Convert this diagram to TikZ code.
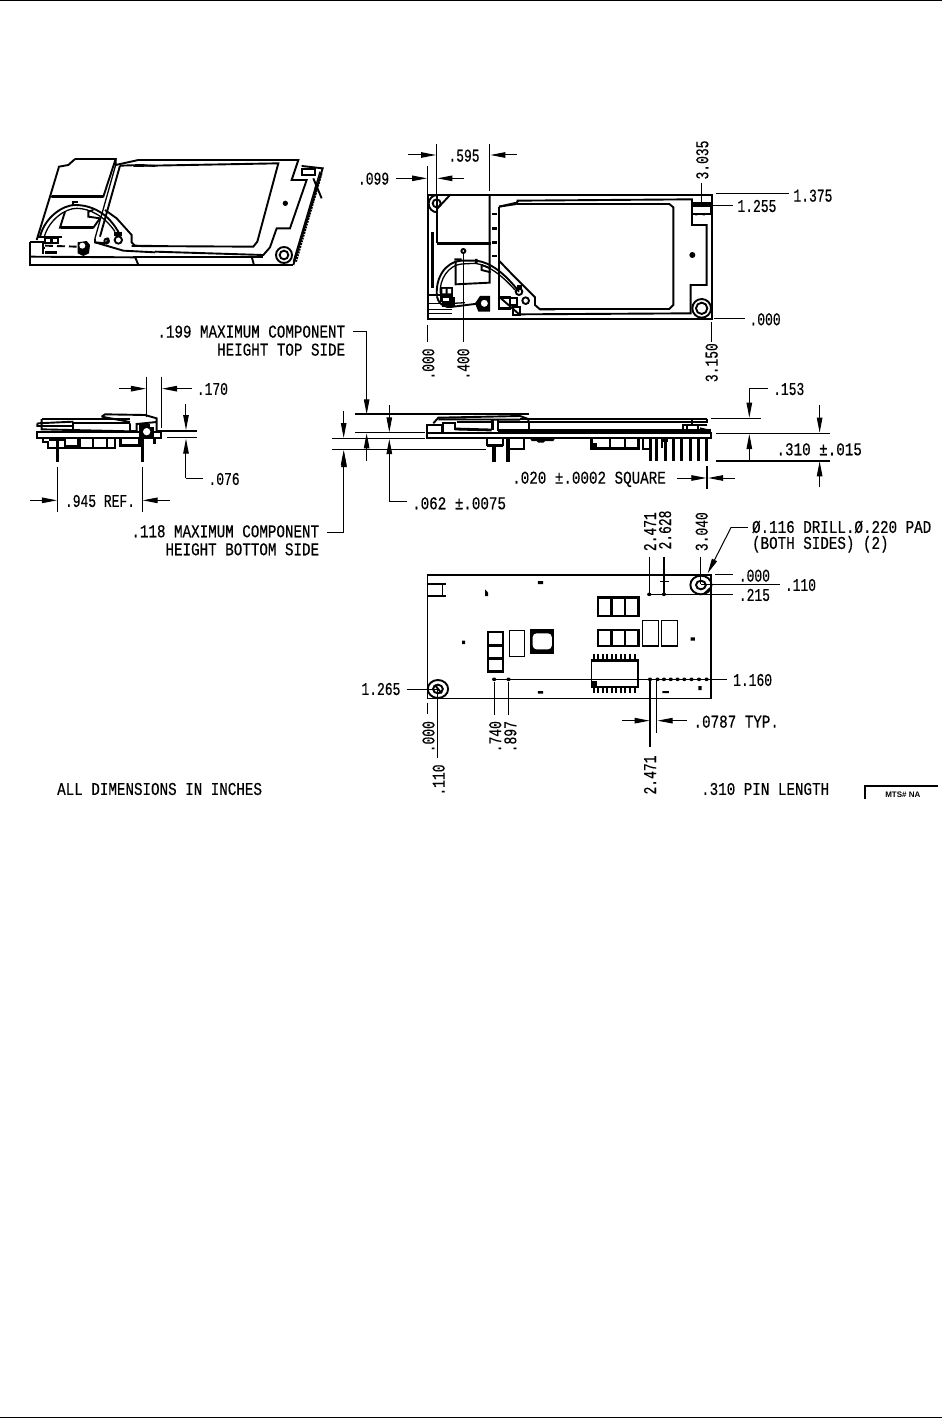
\documentclass[tikz,border=0pt]{standalone}
\usepackage{fontspec}
\setmainfont{Liberation Sans}
\newfontfamily\numfam[FakeStretch=0.72,FakeBold=0.4]{Liberation Mono}
\newfontfamily\txtfam[FakeStretch=0.79,FakeBold=0.4]{Liberation Mono}
\usetikzlibrary{arrows.meta}
\newcommand{\numsize}{\fontsize{18}{20}\numfam}
\newcommand{\txtsize}{\fontsize{18}{20}\txtfam}
\tikzset{
  lab/.style={inner sep=0pt,font=\numsize\selectfont,text=black},
  tlab/.style={inner sep=0pt,font=\txtsize\selectfont,text=black},
  vlab/.style={lab,rotate=90},
  dimar/.style={-{Triangle[length=15pt,width=5.5pt]},line width=1pt},
  ext/.style={line width=1pt},
  heavy/.style={line width=1.9pt},
  med/.style={line width=1.3pt},
  pin/.style={line width=3pt},
  zt/.style={shift={#1},scale=1/3},
  zw/.style n args={2}{shift={#1},xscale=#2,yscale=1/3}
}
\begin{document}
\begin{tikzpicture}[x=1pt,y=-1pt,line join=miter]
\useasboundingbox (0,0) rectangle (942,1426);
\fill[white] (0,0) rectangle (942,1426);
% page rules
\draw[line width=1pt] (0,.5) -- (942,.5);
\draw[line width=1pt] (0,1417.5) -- (942,1417.5);

% ---------- isometric view
\begin{scope}[zt={(0,130)}]
% right part
\draw[heavy] (880,405) -- (968,115) -- (905,108);
\draw[heavy] (400,380) -- (790,380);
\draw[med] (880,395) -- (960,125);
\draw[heavy,densely dotted] (888,395) -- (965,130);
\draw[heavy] (418,90) -- (895,90) -- (875,150) -- (920,150) -- (870,295) -- (830,295) -- (810,352) -- (790,375) -- (465,365);
\draw[heavy] (400,108) -- (835,100) -- (772,335) -- (760,350) -- (395,348);
\fill (856,220) circle (8);
\draw[heavy] (852,375) circle (24) (852,375) circle (13);
\draw[heavy] (905,118) rectangle (945,135);
\draw[heavy] (940,145) -- (965,205) (948,165) -- (945,190);
\draw[heavy] (755,380) -- (762,405);
\draw[heavy] (465,405) -- (880,405);
% left detail, frame of the second crop
\begin{scope}[shift={(75,75)}]
\draw[heavy] (150,12) -- (272,12) -- (235,125) -- (78,125);
\draw[line width=2.6pt] (80,125) -- (235,125);
\draw[heavy] (150,12) -- (130,30) -- (102,35) -- (75,125) -- (35,255);
\draw[heavy] (272,12) -- (272,30) -- (340,15) -- (390,15);
\draw[heavy] (285,32) -- (350,30) -- (390,33);
\draw[heavy] (285,32) -- (225,245);
\draw[med] (272,30) -- (210,250);
\draw[heavy] (45,245) .. controls (60,185) and (115,150) .. (150,150) .. controls (195,150) and (250,170) .. (285,240);
\draw[med] (58,245) .. controls (72,195) and (120,160) .. (155,160) .. controls (195,160) and (240,185) .. (270,230);
\draw[heavy] (120,170) -- (105,218) -- (205,218) -- (225,190) -- (190,185) -- (190,170) -- (205,165);
\draw[line width=2.4pt] (108,218) -- (205,218);
\draw[heavy] (145,150) -- (145,141) -- (160,141);
% lower left
\draw[heavy] (15,262) -- (55,262) -- (55,298);
\draw[heavy] (15,262) -- (15,330) -- (390,330);
\draw[heavy] (15,305) -- (330,307);
\draw[heavy] (330,305) -- (340,330);
\fill (60,288) rectangle (97,298);
\draw[heavy] (55,280) -- (60,280);
\draw[heavy,dash pattern=on 8pt off 4pt] (60,272) -- (155,275);
\fill (158,262) -- (185,258) -- (195,270) -- (192,295) -- (175,303) -- (158,295) -- cycle;
\fill[white] (172,272) circle (9);
\draw[heavy] (60,250) rectangle (78,265) (82,250) rectangle (100,265);
\draw[heavy] (40,245) -- (112,245);
% lower right of the cable
\draw[heavy] (240,165) -- (275,190) -- (320,240) -- (320,262) -- (330,272) -- (390,273);
\draw[heavy] (210,262) -- (295,287) -- (390,292);
\draw[heavy] (210,250) -- (210,262) -- (245,265) -- (250,248);
\draw[heavy] (280,255) circle (11) (245,258) circle (7);
\fill (268,232) rectangle (290,242);
\end{scope}
\end{scope}

% ---------- top view
\begin{scope}[zt={(350,130)}]
\draw[heavy] (233,195) rectangle (1085,567);
\draw[heavy] (500,212) -- (1026,208) -- (1026,285) -- (1070,285) -- (1070,465) -- (1022,465) -- (1022,550) -- (510,553);
\draw[heavy] (500,222) -- (958,222) -- (970,232) -- (970,525) -- (958,537) -- (570,537);
\draw[line width=3pt] (1028,228) -- (1080,228);
\draw[heavy] (1026,218) rectangle (1082,252);
\fill (1035,250) rectangle (1042,256) (1058,250) rectangle (1065,256);
\fill (1027,375) circle (9);
\draw[heavy] (1055,535) circle (17) (1055,535) circle (28);
% left detail, frame of the crop
\begin{scope}[shift={(225,180)}]
\draw[heavy] (37,15) -- (37,160);
\draw[line width=2.4pt] (35,160) -- (197,160);
\draw[heavy] (194,15) -- (194,278) -- (92,283) -- (92,215);
\draw[line width=2.4pt] (22,125) -- (22,295);
\foreach \y in {72,115,157,198} \fill (202,\y-4) rectangle (215,\y+4);
% hole
\draw[heavy] (35,40) circle (12);
\draw[heavy] (37,67) arc (90:270:26);
\draw[heavy] (37,15) -- (75,15) -- (35,58);
% screen outline
\draw[heavy] (222,50) -- (275,38) -- (280,32);
\draw[heavy] (222,50) -- (222,322);
\draw[heavy] (222,50) -- (275,42);
\draw[heavy] (222,212) -- (270,262) -- (330,322) -- (330,345) -- (345,358) -- (390,358);
\draw[heavy] (222,320) -- (285,375);
% cable
\draw[heavy] (36,320) .. controls (30,265) and (60,215) .. (110,212) -- (155,212) .. controls (195,218) and (235,245) .. (282,305);
\draw[med] (46,310) .. controls (42,270) and (70,225) .. (110,222) -- (150,220) .. controls (190,225) and (230,255) .. (270,300);
\draw[heavy] (36,320) .. controls (42,345) and (60,355) .. (85,350) -- (165,340);
\draw[med] (55,318) .. controls (58,335) and (70,342) .. (85,340) -- (120,338);
\draw[heavy] (170,225) -- (170,240) -- (197,247);
\draw[heavy] (170,225) -- (197,235);
\fill (88,205) rectangle (110,212) (150,207) rectangle (158,222);
% leader with tiny hole
\draw[ext] (115,188) -- (115,455);
\draw[heavy] (115,183) circle (6);
% connector at left
\draw[med] (8,315) -- (70,315) (8,340) -- (50,340) (8,358) -- (80,358) (8,370) -- (80,370);
\fill (45,290) rectangle (85,335);
\fill[white] (52,297) rectangle (62,310) (68,297) rectangle (78,310);
\fill (50,320) rectangle (90,350);
\fill[white] (55,325) rectangle (72,332);
% round pad
\fill (165,318) -- (195,318) -- (195,365) -- (160,365) -- (150,340) -- cycle;
\fill[white] (178,340) circle (12);
\draw[med] (178,340) circle (13);
% lower-centre components
\draw[line width=2.4pt] (222,322) rectangle (255,355);
\draw[heavy] (255,325) rectangle (275,345);
\draw[heavy] (265,350) rectangle (285,375);
\draw[heavy] (282,305) circle (10) (302,332) circle (10);
\fill (275,285) rectangle (290,300);
\end{scope}
% dimensions
\draw[ext] (260,42) -- (260,195);
\draw[ext] (419,42) -- (419,182);
\draw[dimar] (175,75) -- (258,75);
\draw[dimar] (500,75) -- (421,75);
\node[lab] (d595) at (342,77) {.595};
\draw[ext] (232,108) -- (232,195);
\draw[dimar] (138,145) -- (231,145);
\draw[dimar] (342,145) -- (262,145);
\node[lab,anchor=east] (d099) at (118,146) {.099};
\draw[ext] (1055,160) -- (1055,216);
\node[vlab] (d3035) at (1057,90) {3.035};
\draw[ext] (1098,192) -- (1318,192);
\node[lab,anchor=west] (d1375) at (1330,197) {1.375};
\draw[ext] (1085,227) -- (1148,227);
\node[lab,anchor=west] (d1255) at (1162,228) {1.255};
\draw[ext] (1092,565) -- (1185,565);
\node[lab,anchor=west] (d000a) at (1198,568) {.000};
\draw[ext] (233,585) -- (233,635);
\node[vlab] (d000b) at (235,702) {.000};
\node[vlab] (d400) at (340,702) {.400};
\draw[ext] (1085,575) -- (1085,635);
\node[vlab] (d3150) at (1085,698) {3.150};
\end{scope}

% ---------- left side view
\begin{scope}[zt={(0,320)}]
\begin{scope}[shift={(90,240)}]
\draw[heavy] (22,97) rectangle (392,115);
\draw[line width=2.4pt] (35,57) -- (300,57);
\draw[heavy] (35,57) -- (35,88) -- (300,94);
\draw[heavy] (22,70) -- (130,65) (22,70) -- (22,78) -- (130,78);
\draw[heavy] (130,65) -- (130,92);
\draw[heavy] (130,68) -- (300,68);
\draw[heavy] (215,50) -- (225,43) -- (345,45) -- (380,55) -- (380,95);
\draw[heavy] (215,50) -- (300,66);
\draw[heavy] (300,70) -- (300,93) -- (320,93) -- (320,72) -- (380,66);
\fill (328,72) rectangle (372,118);
\fill[white] (350,95) circle (11);
\fill[white] (360,72) rectangle (372,80);
% below
\draw[heavy] (40,115) -- (40,125) -- (55,125) -- (55,145) -- (255,145) -- (255,115);
\draw[line width=2.4pt] (58,119) -- (105,119);
\draw[heavy] (105,115) -- (105,138) -- (145,138) -- (145,115);
\draw[heavy] (150,115) -- (150,145) (190,115) -- (190,145) (230,115) -- (230,145);
\draw[line width=3pt] (272,115) -- (272,135) -- (328,135) -- (328,115);
\draw[pin] (82,115) -- (82,185);
\draw[pin] (337,115) -- (337,185);
\draw[pin] (373,115) -- (373,132);
\end{scope}
% dimensions
\draw[ext] (439,170) -- (439,290);
\draw[ext] (485,170) -- (485,325);
\draw[dimar] (358,206) -- (438,206);
\draw[dimar] (576,206) -- (486,206);
\node[lab,anchor=west] (d170) at (590,207) {.170};
\draw[heavy] (472,333) -- (590,333);
\draw[ext] (500,353) -- (590,353);
\draw[dimar] (558,252) -- (558,330);
\draw[ext] (610,475) -- (558,475);
\draw[dimar] (558,475) -- (558,356);
\node[lab,anchor=west] (d076) at (625,477) {.076};
\draw[ext] (172,440) -- (172,575);
\draw[ext] (427,440) -- (427,575);
\draw[dimar] (90,541) -- (171,541);
\draw[dimar] (510,541) -- (428,541);
\node[lab] (d945) at (300,543) {.945 REF.};
\node[tlab,anchor=east,align=right] (d199) at (1036,62) {.199 MAXIMUM COMPONENT\\[-2pt]HEIGHT TOP SIDE};
\draw[ext] (1060,35) -- (1100,35);
\draw[dimar] (1100,35) -- (1100,283);
\node[tlab,anchor=east,align=right] (d118) at (958,661) {.118 MAXIMUM COMPONENT\\[-2pt]HEIGHT BOTTOM SIDE};
\draw[ext] (982,637) -- (1032,637);
\draw[dimar] (1032,637) -- (1032,396);
\end{scope}

% ---------- front side view: part
\begin{scope}[zt={(420,405)}]
\draw[heavy] (22,85) rectangle (872,100);
\draw[line width=3pt] (235,77) -- (872,77);
\draw[line width=2.4pt] (300,42) -- (862,42);
\draw[heavy] (325,52) -- (862,52) -- (862,42);
\draw[heavy] (22,85) -- (22,60) -- (65,60) -- (65,85);
\draw[heavy] (70,85) -- (70,55) -- (105,55) -- (105,75);
\draw[line width=2.8pt] (105,72) -- (215,75);
\draw[heavy] (40,55) -- (55,38) -- (300,33) -- (325,42) -- (325,50);
\draw[heavy] (55,43) -- (300,44);
\draw[heavy] (110,50) -- (215,50);
\draw[pin] (218,45) -- (218,75);
\draw[heavy] (233,45) -- (233,77);
\draw[heavy] (238,52) -- (328,52) -- (328,72);
\draw[heavy] (790,85) -- (790,60) -- (860,60);
\draw[heavy] (800,60) -- (800,85) (835,60) -- (835,85);
\draw[heavy] (840,70) -- (870,77);
\draw[heavy] (815,42) -- (815,60);
% under
\draw[line width=2.4pt] (200,122) -- (248,122);
\draw[heavy] (200,100) -- (200,122) (248,100) -- (248,122);
\draw[heavy] (268,100) -- (268,133) -- (313,133) -- (313,100);
\fill (330,100) -- (405,100) -- (400,108) -- (375,108) -- (370,113) -- (355,113) -- (350,108) -- (335,108) -- cycle;
\draw[line width=2.4pt] (515,100) -- (515,130) -- (655,130) -- (655,100);
\fill (515,115) rectangle (530,130);
\draw[line width=2.4pt] (570,100) -- (570,130) (615,100) -- (615,130);
\draw[heavy] (668,100) -- (668,133) -- (690,133);
\draw[heavy] (725,100) -- (725,130);
\fill (728,100) rectangle (745,112);
\draw[line width=4pt] (222,122) -- (222,170) (265,100) -- (265,170);
\foreach \x in {690,710,735,760,785,810,835,860} \draw[pin] (\x,100) -- (\x,167);
\end{scope}

% ---------- front side view: dimensions
\begin{scope}[zw={(320,370)}{1/2.958}]
\draw[line width=2pt] (105,133) -- (618,133);
\draw[ext] (105,188) -- (310,188);
\draw[ext] (35,205) -- (310,205);
\draw[ext] (35,238) -- (490,238);
\draw[dimar] (70,122) -- (70,204);
\draw[dimar] (70,450) -- (70,240);
\draw[dimar] (138,272) -- (138,190);
\draw[dimar] (205,105) -- (205,187);
\draw[ext] (258,395) -- (205,395);
\draw[dimar] (205,395) -- (205,207);
\node[tlab,anchor=west] (d062) at (272,400) {.062 ±.0075};
\draw[ext] (1156,145) -- (1305,145);
\draw[ext] (1170,190) -- (1510,190);
\draw[heavy] (1170,272) -- (1510,272);
\draw[ext] (1325,55) -- (1270,55);
\draw[dimar] (1270,55) -- (1270,143);
\node[lab,anchor=west] (d153) at (1340,57) {.153};
\draw[dimar] (1478,105) -- (1478,188);
\draw[dimar] (1270,270) -- (1270,192);
\draw[dimar] (1478,352) -- (1478,274);
\node[tlab,anchor=west] (d310) at (1350,238) {.310 ±.015};
\node[tlab,anchor=west] (d020) at (568,328) {.020 ±.0002 SQUARE};
\draw[dimar] (1055,324) -- (1143,324);
\draw[dimar] (1228,324) -- (1148,324);
\draw[heavy] (1145,288) -- (1145,358);
\end{scope}

% ---------- bottom view
\begin{scope}[zw={(350,510)}{1/2.65}]
\draw[med] (205,195) rectangle (957,565);
\draw[heavy] (205,195) -- (957,195);
% comps
\foreach \y/\h in {262/56,360/48} {
  \draw[line width=2.6pt] (657,\y) rectangle (765,\y+\h);
  \draw[line width=2.6pt] (693,\y) -- (693,\y+\h) (729,\y) -- (729,\y+\h);
}
\draw[med] (775,332) rectangle (818,408);
\draw[med] (825,332) rectangle (868,408);
\draw[line width=2.6pt] (366,366) rectangle (405,485);
\draw[line width=2.6pt] (366,406) -- (405,406) (366,446) -- (405,446);
\draw[med] (422,362) rectangle (463,440);
\fill (476,358) rectangle (541,431);
\fill[white,rounded corners=4pt] (484,370) rectangle (535,418);
% IC
\draw[heavy] (640,450) rectangle (763,530);
\draw[line width=3pt] (640,450) -- (763,450);
\foreach \x in {646,658,...,760} {\draw[line width=2pt] (\x,432) -- (\x,450); \draw[line width=2pt] (\x,530) -- (\x,550);}
\fill (640,512) rectangle (655,530);
% dots
\fill (498,213) rectangle (512,222) (498,543) rectangle (512,551) (297,392) rectangle (305,402) (903,382) rectangle (914,392) (828,543) rectangle (845,549) (923,528) rectangle (932,540);
\fill (358,238) -- (366,248) -- (366,258) -- (358,258) -- cycle;
\draw[heavy] (205,222) -- (245,222) -- (245,258) -- (205,258);
\draw[heavy] (245,222) -- (255,222) (245,258) -- (255,258);
% circles
\draw[heavy] (930,225) circle (13);
\draw[heavy] (930,225) circle (28);
\draw[heavy] (938,252) -- (957,232);
\draw[heavy] (233,537) circle (27) (233,537) circle (13);
\draw[heavy] (225,525) -- (243,550);
% pin row
\draw[ext] (382,508) -- (1000,508);
\foreach \x in {382,420,795,815,832,850,868,886,905,925,945} \fill (\x,508) circle (5.5);
\node[lab,anchor=west] (d1160) at (1015,510) {1.160};
\draw[ext] (793,253) -- (1015,253);
\fill (793,253) circle (5.5) (832,253) circle (5.5);
\node[lab,anchor=west] (d215) at (1030,255) {.215};
\draw[ext] (930,222) -- (1140,222);
\node[lab,anchor=west] (d110a) at (1152,225) {.110};
\draw[ext] (968,192) -- (1015,192);
\node[lab,anchor=west] (d000c) at (1030,197) {.000};
\draw[med] (793,140) -- (793,253);
\draw[med] (832,140) -- (832,253);
\draw[med] (822,215) -- (845,215);
\draw[ext] (930,140) -- (930,222);
\node[vlab] (d2471a) at (795,65) {2.471};
\node[vlab] (d2628) at (835,60) {2.628};
\node[vlab] (d3040) at (932,65) {3.040};
\draw[ext] (1055,52) -- (1010,52);
\draw[dimar] (1010,52) -- (948,190);
\node[tlab,anchor=west,align=left] (ddrill) at (1065,80) {Ø.116 DRILL.Ø.220 PAD\\[-4pt](BOTH SIDES) (2)};
\draw[ext] (150,537) -- (233,537);
\node[lab,anchor=west] (d1265) at (30,537) {1.265};
\draw[ext] (205,578) -- (205,612);
\node[vlab] (d000d) at (208,680) {.000};
\draw[ext] (232,540) -- (232,745);
\node[vlab] (d110b) at (235,810) {.110};
\draw[heavy] (383,515) -- (383,615);
\draw[med] (420,515) -- (420,615);
\node[vlab] (d740) at (385,680) {.740};
\node[vlab] (d897) at (425,680) {.897};
\draw[med] (795,510) -- (795,712);
\draw[ext] (813,510) -- (813,668);
\draw[dimar] (722,632) -- (794,632);
\draw[dimar] (893,632) -- (815,632);
\node[tlab,anchor=west] (d0787) at (910,635) {.0787 TYP.};
\node[vlab] (d2471b) at (795,795) {2.471};
\node[tlab,anchor=west] (dpin) at (930,837) {.310 PIN LENGTH};
\draw[line width=1.8pt] (1364,868) -- (1364,828) -- (1557,828);
\node[inner sep=0pt,font=\fontsize{8}{9}\bfseries\selectfont] (dmts) at (1465,853) {MTS\# NA};
\end{scope}

\node[tlab,anchor=west] (dall) at (57,789) {ALL DIMENSIONS IN INCHES};
\end{tikzpicture}
\end{document}
